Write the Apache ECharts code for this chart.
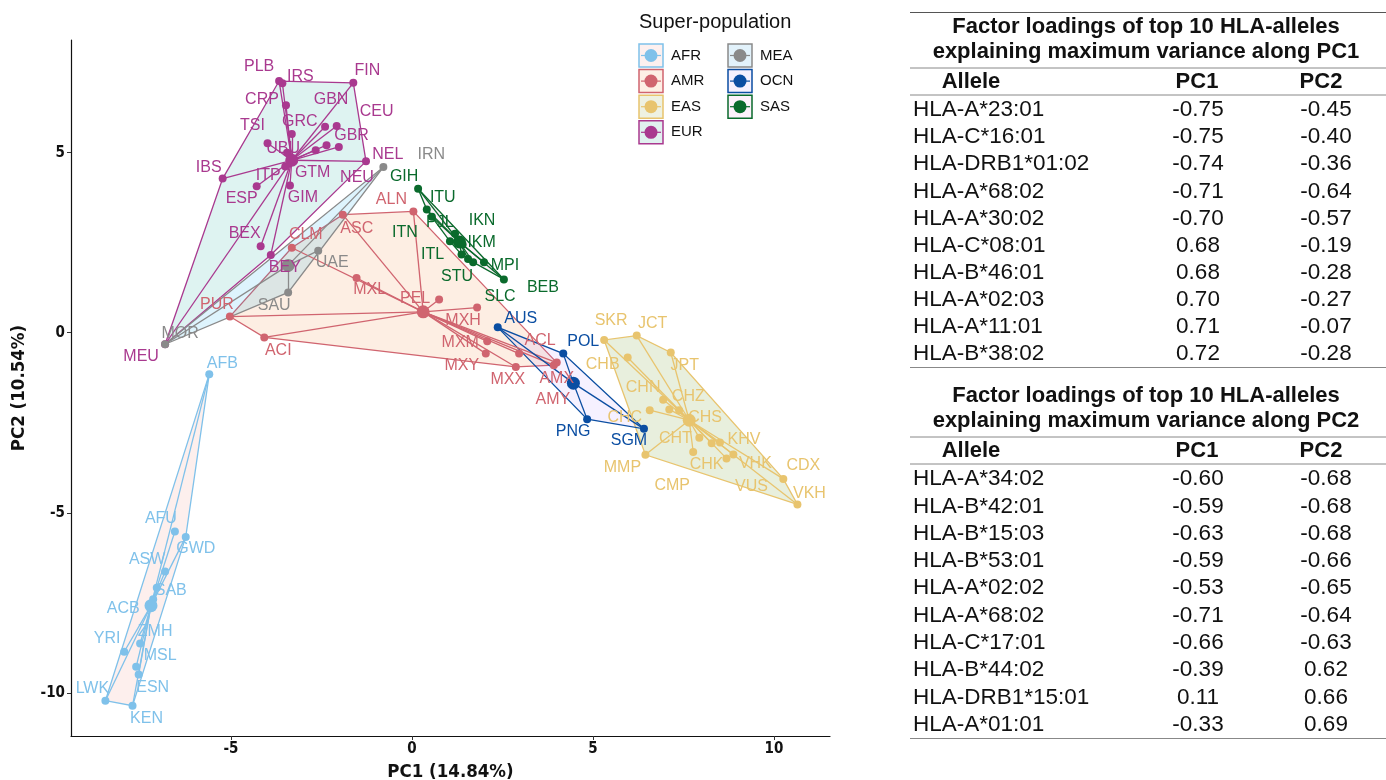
<!DOCTYPE html>
<html>
<head>
<meta charset="utf-8">
<script src="https://cdn.jsdelivr.net/npm/echarts@6/dist/echarts.min.js"></script>
<style>
  html, body { margin: 0; padding: 0; background: #fff; }
  #main { width: 1386px; height: 780px; }
</style>
</head>
<body>
<div id="main"></div>
<script>
// super-populations, in legend order
const groups = ['AFR', 'AMR', 'EAS', 'EUR', 'MEA', 'OCN', 'SAS'];

// populations and their PCA scores
const popNames = [
  'AFB', 'AFU', 'GWD', 'ASW', 'SAB', 'ACB', 'ZMH', 'YRI', 'MSL', 'ESN', 'LWK', 'KEN',
  'ALN', 'ASC', 'CLM', 'MXL', 'PEL', 'PUR', 'ACI', 'MXH', 'MXM', 'MXY', 'MXX', 'ACL', 'AMX', 'AMY',
  'SKR', 'JCT', 'JPT', 'CHB', 'CHN', 'CHZ', 'CHC', 'CHS', 'CHT', 'CHK', 'KHV', 'CMP', 'VUS', 'VHK', 'MMP', 'CDX', 'VKH',
  'PLB', 'IRS', 'FIN', 'CRP', 'GRC', 'TSI', 'GBN', 'CEU', 'GBR', 'UBU', 'NEL', 'NEU', 'IBS', 'ITP', 'GTM', 'ESP', 'GIM', 'BEX', 'BEY', 'MEU',
  'IRN', 'UAE', 'SAU', 'MOR',
  'AUS', 'POL', 'PNG', 'SGM',
  'GIH', 'ITU', 'PJL', 'IKN', 'ITN', 'IKM', 'ITL', 'STU', 'MPI', 'BEB', 'SLC'
];
const popGroup = [
  'AFR', 'AFR', 'AFR', 'AFR', 'AFR', 'AFR', 'AFR', 'AFR', 'AFR', 'AFR', 'AFR', 'AFR',
  'AMR', 'AMR', 'AMR', 'AMR', 'AMR', 'AMR', 'AMR', 'AMR', 'AMR', 'AMR', 'AMR', 'AMR', 'AMR', 'AMR',
  'EAS', 'EAS', 'EAS', 'EAS', 'EAS', 'EAS', 'EAS', 'EAS', 'EAS', 'EAS', 'EAS', 'EAS', 'EAS', 'EAS', 'EAS', 'EAS', 'EAS',
  'EUR', 'EUR', 'EUR', 'EUR', 'EUR', 'EUR', 'EUR', 'EUR', 'EUR', 'EUR', 'EUR', 'EUR', 'EUR', 'EUR', 'EUR', 'EUR', 'EUR', 'EUR', 'EUR', 'EUR',
  'MEA', 'MEA', 'MEA', 'MEA',
  'OCN', 'OCN', 'OCN', 'OCN',
  'SAS', 'SAS', 'SAS', 'SAS', 'SAS', 'SAS', 'SAS', 'SAS', 'SAS', 'SAS', 'SAS'
];
const pc1 = [
  -5.60, -6.55, -6.25, -6.82, -7.05, -7.15, -7.51, -7.95, -7.62, -7.55, -8.47, -7.72,
  0.04, -1.91, -3.32, -1.53, 0.75, -5.03, -4.08, 1.80, 2.08, 2.04, 2.87, 2.96, 4.00, 3.92,
  5.31, 6.21, 7.15, 5.96, 6.94, 7.11, 6.57, 7.38, 7.94, 8.28, 8.51, 7.77, 8.69, 8.88, 6.45, 10.26, 10.65,
  -3.67, -3.58, -1.62, -3.48, -3.32, -3.99, -2.40, -2.08, -2.36, -3.45, -2.02, -1.27, -5.23, -3.50, -2.66, -4.29, -3.37, -4.18, -3.90, -6.82,
  -0.79, -2.59, -3.42, -6.82,
  2.37, 4.18, 4.84, 6.41,
  0.17, 0.41, 0.55, 1.19, 1.05, 1.40, 1.37, 1.69, 1.99, 2.54, 1.55
];
const pc2 = [
  -1.15, -5.52, -5.67, -6.63, -7.08, -7.40, -8.63, -8.86, -9.28, -9.49, -10.22, -10.36,
  3.37, 3.28, 2.36, 1.52, 0.92, 0.45, -0.13, 0.70, -0.24, -0.58, -0.95, -0.58, -0.83, -0.90,
  -0.20, -0.08, -0.55, -0.69, -1.86, -2.13, -2.15, -2.15, -2.92, -3.07, -3.05, -3.31, -3.49, -3.38, -3.39, -4.06, -4.77,
  6.99, 6.93, 6.94, 6.32, 5.52, 5.26, 5.72, 5.74, 5.21, 5.00, 5.16, 4.76, 4.28, 4.62, 5.07, 4.07, 4.09, 2.40, 2.16, -0.32,
  4.60, 2.28, 1.12, -0.32,
  0.15, -0.58, -2.40, -2.67,
  4.00, 3.42, 3.22, 2.75, 2.54, 2.45, 2.17, 1.96, 1.96, 1.48, 2.05
];
// group centroids, same order as groups
const centroidPC1 = [-7.21, 0.31, 7.66, -3.32, -3.42, 4.46, 1.31];
const centroidPC2 = [-7.58, 0.58, -2.43, 4.79, 1.87, -1.40, 2.52];

const xTicks = [-5, 0, 5, 10];
const yTicks = [-10, -5, 0, 5];

// loadings tables
const topPC1Alleles = ['HLA-A*23:01', 'HLA-C*16:01', 'HLA-DRB1*01:02', 'HLA-A*68:02', 'HLA-A*30:02',
  'HLA-C*08:01', 'HLA-B*46:01', 'HLA-A*02:03', 'HLA-A*11:01', 'HLA-B*38:02'];
const topPC1LoadPC1 = ['-0.75', '-0.75', '-0.74', '-0.71', '-0.70', '0.68', '0.68', '0.70', '0.71', '0.72'];
const topPC1LoadPC2 = ['-0.45', '-0.40', '-0.36', '-0.64', '-0.57', '-0.19', '-0.28', '-0.27', '-0.07', '-0.28'];
const topPC2Alleles = ['HLA-A*34:02', 'HLA-B*42:01', 'HLA-B*15:03', 'HLA-B*53:01', 'HLA-A*02:02',
  'HLA-A*68:02', 'HLA-C*17:01', 'HLA-B*44:02', 'HLA-DRB1*15:01', 'HLA-A*01:01'];
const topPC2LoadPC1 = ['-0.60', '-0.59', '-0.63', '-0.59', '-0.53', '-0.71', '-0.66', '-0.39', '0.11', '-0.33'];
const topPC2LoadPC2 = ['-0.68', '-0.68', '-0.68', '-0.66', '-0.65', '-0.64', '-0.63', '0.62', '0.66', '0.69'];

// styling
const pointColor = { AFR: '#7fc1ea', AMR: '#d0646f', EAS: '#e8c46e', EUR: '#a9398f', MEA: '#8a8a8a', OCN: '#0b4ea2', SAS: '#0a6a2c' };
const hullFill = {
  AFR: 'rgba(240,120,110,0.12)', AMR: 'rgba(240,150,80,0.16)', EAS: 'rgba(100,150,30,0.15)',
  EUR: 'rgba(0,160,150,0.13)', MEA: 'rgba(0,170,240,0.13)', OCN: 'rgba(170,120,255,0.10)', SAS: 'rgba(250,100,210,0.08)'
};
const keyFill = { AFR: '#fdf0ef', AMR: '#fdefe5', EAS: '#eef1e2', EUR: '#e0f1ef', MEA: '#e2f2fb', OCN: '#f6f1fe', SAS: '#fdf1fb' };

// where each population label sits relative to its dot (px)
const labelOffset = {
  AFB: [13, -11], AFU: [-14, -13], GWD: [10, 12], ASW: [-18, -12], SAB: [14, 3], ACB: [-30, 9],
  ZMH: [15, -12], YRI: [-17, -13], MSL: [24, -11], ESN: [14, 13], LWK: [-13, -12], KEN: [14, 13],
  ALN: [-22, -12], ASC: [14, 14], CLM: [14, -13], MXL: [13, 12], PEL: [-24, -1], PUR: [-13, -12],
  ACI: [14, 13], MXH: [-14, 13], MXM: [-27, 1], MXY: [-24, 12], MXX: [-8, 13], ACL: [21, -13],
  AMX: [0, 16], AMY: [-1, 34],
  SKR: [7, -19], JCT: [16, -12], JPT: [14, 13], CHB: [-25, 7], CHN: [-20, -12], CHZ: [19, -13],
  CHC: [-25, 7], CHS: [26, 7], CHT: [-24, 1], CHK: [-5, 21], KHV: [24, -3], CMP: [-21, 34],
  VUS: [25, 28], VHK: [22, 9], MMP: [-23, 13], CDX: [20, -13], VKH: [12, -11],
  PLB: [-20, -14], IRS: [18, -7], FIN: [14, -12], CRP: [-24, -6], GRC: [8, -12], TSI: [-15, -18],
  GBN: [6, -27], CEU: [40, -14], GBR: [25, -10], UBU: [-4, -4], NEL: [49, 8], NEU: [-9, 16],
  IBS: [-14, -11], ITP: [-17, 9], GTM: [-3, 22], ESP: [-15, 12], GIM: [13, 12], BEX: [-16, -13],
  BEY: [14, 13], MEU: [-24, 12],
  IRN: [48, -13], UAE: [14, 12], SAU: [-14, 13], MOR: [15, -11],
  AUS: [23, -9], POL: [20, -12], PNG: [-14, 12], SGM: [-15, 12],
  GIH: [-14, -12], ITU: [16, -12], PJL: [8, 6], IKN: [27, -13], ITN: [-45, -9], IKM: [19, -2],
  ITL: [-29, 0], STU: [-16, 14], MPI: [21, 3], BEB: [39, 8], SLC: [32, 38]
};

const narrow = "'Liberation Sans Narrow', 'DejaVu Sans Condensed', 'Liberation Sans', sans-serif";
const sans = "'Liberation Sans', Arial, sans-serif";

function convexHull(pts) {
  const p = pts.slice().sort((a, b) => a[0] - b[0] || a[1] - b[1]);
  const cross = (o, a, b) => (a[0] - o[0]) * (b[1] - o[1]) - (a[1] - o[1]) * (b[0] - o[0]);
  const lower = [], upper = [];
  for (const q of p) {
    while (lower.length >= 2 && cross(lower[lower.length - 2], lower[lower.length - 1], q) <= 0) lower.pop();
    lower.push(q);
  }
  for (let i = p.length - 1; i >= 0; i--) {
    const q = p[i];
    while (upper.length >= 2 && cross(upper[upper.length - 2], upper[upper.length - 1], q) <= 0) upper.pop();
    upper.push(q);
  }
  upper.pop(); lower.pop();
  return lower.concat(upper);
}

const series = [];
groups.forEach((g, gi) => {
  const idx = popNames.map((n, i) => i).filter(i => popGroup[i] === g);
  const pts = idx.map(i => [pc1[i], pc2[i]]);
  const hull = convexHull(pts);
  const cx = centroidPC1[gi], cy = centroidPC2[gi];
  // hull polygon
  series.push({
    type: 'custom',
    z: 1,
    silent: true,
    data: [hull[0]],
    renderItem: (params, api) => ({
      type: 'polygon',
      shape: { points: hull.map(p => api.coord(p)) },
      style: { fill: hullFill[g], stroke: pointColor[g], lineWidth: 1.3 }
    })
  });
  // spokes from centroid
  series.push({
    type: 'lines',
    coordinateSystem: 'cartesian2d',
    z: 2,
    silent: true,
    lineStyle: { color: pointColor[g], width: 1.3, opacity: 1 },
    data: idx.map(i => ({ coords: [[cx, cy], [pc1[i], pc2[i]]] }))
  });
  // populations
  series.push({
    type: 'scatter',
    name: g,
    z: 3,
    symbolSize: 8,
    itemStyle: { color: pointColor[g], opacity: 1 },
    label: {
      show: true, position: 'inside', formatter: '{b}',
      color: pointColor[g], fontFamily: sans, fontSize: 16, textBorderWidth: 0
    },
    data: idx.map(i => ({
      name: popNames[i],
      value: [pc1[i], pc2[i]],
      label: { offset: labelOffset[popNames[i]] || [0, -12] }
    }))
  });
  // centroid
  series.push({
    type: 'scatter',
    z: 3,
    symbolSize: 13,
    itemStyle: { color: pointColor[g], opacity: 1 },
    data: [[cx, cy]]
  });
});

// legend drawn by hand: boxed keys in two columns
const graphics = [];
graphics.push({
  type: 'text', left: 639, top: 12,
  style: { text: 'Super-population', font: '20px ' + sans, fill: '#111' }
});
groups.forEach((g, i) => {
  const col = i < 4 ? 0 : 1;
  const row = i < 4 ? i : i - 4;
  const bx = 639 + col * 89, by = 44 + row * 25.6;
  graphics.push({
    type: 'rect', shape: { x: bx, y: by, width: 24, height: 23 },
    style: { fill: keyFill[g], stroke: pointColor[g], lineWidth: 1.5 }
  });
  graphics.push({
    type: 'line', shape: { x1: bx + 2, y1: by + 11.5, x2: bx + 22, y2: by + 11.5 },
    style: { stroke: pointColor[g], lineWidth: 1.2 }
  });
  graphics.push({
    type: 'circle', shape: { cx: bx + 12, cy: by + 11.5, r: 6.5 },
    style: { fill: pointColor[g] }
  });
  graphics.push({
    type: 'text', x: bx + 32, y: by + 11.5,
    style: { text: g, font: '15px ' + sans, fill: '#111', textVerticalAlign: 'middle' }
  });
});

// loadings tables
function addTable(title2, alleles, l1, l2, t) {
  const rule = (y, c) => graphics.push({
    type: 'line', shape: { x1: 910, y1: y, x2: 1386, y2: y },
    style: { stroke: c, lineWidth: 1 }
  });
  const txt = (s, x, y, align, bold) => graphics.push({
    type: 'text', x: x, y: y,
    style: {
      text: s, font: (bold ? 'bold 22px ' : '22.5px ') + sans, fill: '#111',
      textAlign: align, textVerticalAlign: 'middle'
    }
  });
  if (t.top !== null) rule(t.top, '#555');
  txt('Factor loadings of top 10 HLA-alleles', 1146, t.title, 'center', true);
  txt(title2, 1146, t.title + 25, 'center', true);
  rule(t.title + 41, '#888');
  txt('Allele', 971, t.title + 55, 'center', true);
  txt('PC1', 1197, t.title + 55, 'center', true);
  txt('PC2', 1321, t.title + 55, 'center', true);
  rule(t.title + 68, '#888');
  alleles.forEach((a, i) => {
    const y = t.title + 83 + i * t.pitch;
    txt(a, 913, y, 'left', false);
    txt(l1[i], 1198, y, 'center', false);
    txt(l2[i], 1326, y, 'center', false);
  });
  rule(t.bottom, '#888');
}
addTable('explaining maximum variance along PC1', topPC1Alleles, topPC1LoadPC1, topPC1LoadPC2,
  { top: 12.5, title: 27, pitch: 27.1, bottom: 367.5 });
addTable('explaining maximum variance along PC2', topPC2Alleles, topPC2LoadPC1, topPC2LoadPC2,
  { top: null, title: 396, pitch: 27.3, bottom: 738.5 });

const chart = echarts.init(document.getElementById('main'));
chart.setOption({
  animation: false,
  backgroundColor: '#fff',
  grid: { left: 71, right: 556, top: 40, bottom: 44, outerBoundsMode: 'none', containLabel: false },
  xAxis: {
    type: 'value', min: -9.42, max: 11.55,
    name: 'PC1 (14.84%)', nameLocation: 'middle', nameGap: 27,
    nameTextStyle: { fontFamily: narrow, fontWeight: 'bold', fontSize: 18.5, color: '#111' },
    axisLine: { show: true, onZero: false, lineStyle: { color: '#111', width: 1.2 } },
    axisTick: { show: true, length: 4, customValues: xTicks, lineStyle: { color: '#333' } },
    axisLabel: { customValues: xTicks, fontFamily: narrow, fontWeight: 'bold', fontSize: 15, color: '#111', margin: 6 },
    splitLine: { show: false }
  },
  yAxis: {
    type: 'value', min: -11.2, max: 8.13,
    name: 'PC2 (10.54%)', nameLocation: 'middle', nameGap: 42, nameRotate: 90,
    nameTextStyle: { fontFamily: narrow, fontWeight: 'bold', fontSize: 18.5, color: '#111' },
    axisLine: { show: true, onZero: false, lineStyle: { color: '#111', width: 1.2 } },
    axisTick: { show: true, length: 4, customValues: yTicks, lineStyle: { color: '#333' } },
    axisLabel: { customValues: yTicks, fontFamily: narrow, fontWeight: 'bold', fontSize: 15, color: '#111', margin: 6 },
    splitLine: { show: false }
  },
  graphic: graphics,
  series: series
});
</script>
</body>
</html>
